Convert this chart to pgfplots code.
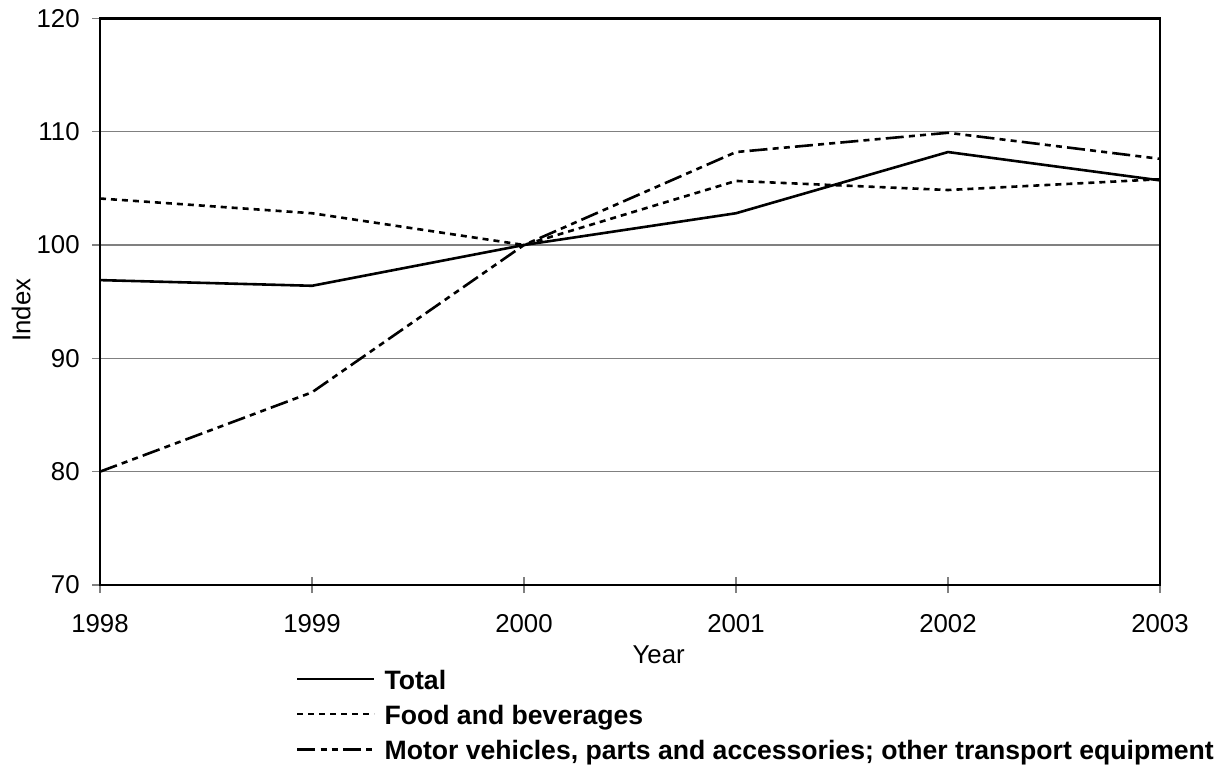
\documentclass[border=0pt]{standalone}
\usepackage{fontspec}
\setmainfont{Liberation Sans}
\usepackage{pgfplots}
\pgfplotsset{compat=1.18}
\newcommand{\fs}{\fontsize{12.9bp}{15bp}\selectfont}
\newcommand{\fl}{\fontsize{13.3bp}{16bp}\selectfont}
\begin{document}
\begin{tikzpicture}
\useasboundingbox (0,0) rectangle (615.5bp,382.5bp);
\begin{axis}[
  at={(50bp,90bp)}, anchor=south west,
  scale only axis,
  width=530bp, height=283.35bp,
  xmin=1998, xmax=2003, ymin=70, ymax=120,
  xtick={1998,1999,2000,2001,2002,2003},
  ytick={70,80,90,100,110,120},
  xtick pos=bottom, ytick pos=left,
  /pgf/number format/assume math mode=true,
  /pgf/number format/set thousands separator={},
  tick align=center,
  major tick length=8bp,
  major tick style={gray, line width=0.6bp},
  ymajorgrids,
  major grid style={gray, line width=0.6bp},
  axis line style={black, line width=1.2bp},
  every tick label/.append style={font=\fs},
  xticklabel style={anchor=north, inner sep=0pt},
  yticklabel style={anchor=east, inner sep=0pt},
  xticklabel shift=10.5bp,
  yticklabel shift=6bp,
  xlabel={Year}, ylabel={Index},
  label style={font=\fs},
  xlabel style={at={(axis description cs:0.527,-0.1235)}, anchor=center},
  ylabel style={at={(axis description cs:-0.0745,0.485)}, anchor=center},
  legend style={at={(axis description cs:0.1849,-0.152)}, anchor=north west,
    draw=none, fill=none, inner sep=0pt, outer sep=0pt,
    font=\fl\bfseries, row sep=5.25bp, column sep=0pt,
    nodes={inner sep=0pt, text height=9.3bp, text depth=3bp, anchor=west},
    cells={anchor=west}},
  legend image code/.code={\draw[#1] (0bp,2.2bp) -- (38.5bp,2.2bp);},
  legend cell align=left,
  every axis plot/.append style={line width=1.3bp, black, no marks},
]
\addplot[black, solid, no marks] coordinates {(1998,96.9) (1999,96.4) (2000,100) (2001,102.8) (2002,108.2) (2003,105.7)};
\addlegendentry{\hspace{4.5bp}Total}
\addplot[black, no marks, dash pattern=on 3bp off 2.5bp] coordinates {(1998,104.1) (1999,102.8) (2000,100) (2001,105.65) (2002,104.85) (2003,105.8)};
\addlegendentry{\hspace{4.5bp}Food and beverages}
\addplot[black, no marks, dash pattern=on 9bp off 2.6bp on 3bp off 2.6bp on 3bp off 2.6bp] coordinates {(1998,80.0) (1999,87.0) (2000,100) (2001,108.2) (2002,109.9) (2003,107.6)};
\addlegendentry{\hspace{4.5bp}Motor vehicles, parts and accessories; other transport equipment}
\end{axis}
\end{tikzpicture}
\end{document}
